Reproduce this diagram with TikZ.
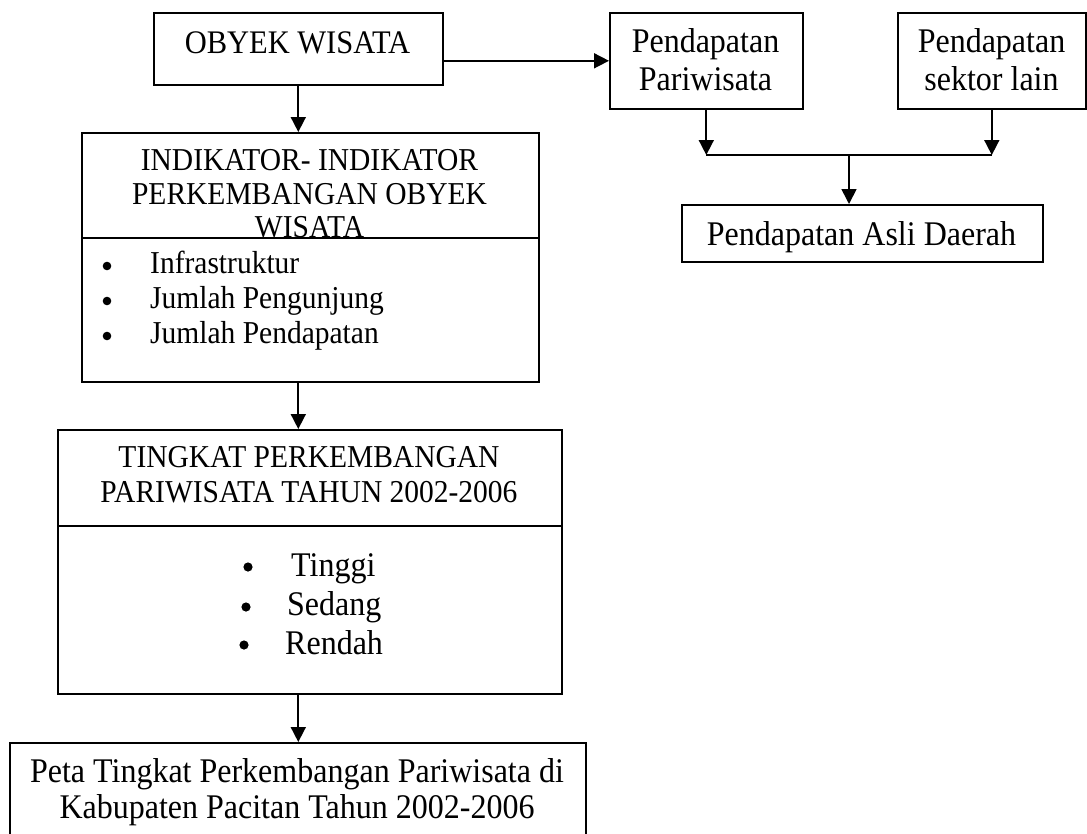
\documentclass[tikz,border=0pt]{standalone}
\usepackage{fontspec}
\setmainfont{Liberation Serif}
\usetikzlibrary{arrows.meta,calc}
\newcommand{\fsz}[1]{\fontsize{#1}{#1}\selectfont}
\newcommand{\tall}[1]{\scalebox{1}[1.08]{#1}}
\begin{document}
\begin{tikzpicture}[x=1pt,y=-1pt,
  box/.style={draw,line width=1.6pt,inner sep=0pt,anchor=north west},
  txt/.style={inner sep=0pt,anchor=base},
  txtl/.style={inner sep=0pt,anchor=base west},
  ln/.style={line width=1.7pt},
  arr/.style={line width=1.7pt,-{Triangle[length=15pt,width=15pt]}}]
\clip (0,0) rectangle (1087,833);
\fill[white] (0,0) rectangle (1087,833);
% boxes
\node[box,minimum width=289pt,minimum height=72pt] (obyek) at (153,12) {};
\node[box,minimum width=457pt,minimum height=249pt] (ind) at (81,132) {};
\node[box,minimum width=504pt,minimum height=264pt] (tkt) at (57,429) {};
\node[box,minimum width=576pt,minimum height=110pt] (peta) at (9,742) {};
\node[box,minimum width=193pt,minimum height=96pt] (pp) at (609,12) {};
\node[box,minimum width=188pt,minimum height=96pt] (sl) at (897,12) {};
\node[box,minimum width=361pt,minimum height=57pt] (pad) at (681,204) {};
% dividers
\coordinate (d1) at (0,238);
\coordinate (d2) at (0,526);
\draw[ln] (ind.west |- d1) -- (ind.east |- d1);
\draw[ln] (tkt.west |- d2) -- (tkt.east |- d2);
% texts
\node[txt,font=\fsz{30.5}] (tobyek) at (297.5,53) {\tall{OBYEK WISATA}};
\node[txt,font=\fsz{29.5}] (ti1) at (309.5,170) {\tall{INDIKATOR- INDIKATOR}};
\node[txt,font=\fsz{29.5}] (ti2) at (309.5,204) {\tall{PERKEMBANGAN OBYEK}};
\node[txt,font=\fsz{29.5}] (ti3) at (309.5,237) {\tall{WISATA}};
\node[txtl,font=\fsz{29.5}] (li1) at (150,273) {\tall{Infrastruktur}};
\node[txtl,font=\fsz{29.5}] (li2) at (150,308) {\tall{Jumlah Pengunjung}};
\node[txtl,font=\fsz{29.5}] (li3) at (150,343) {\tall{Jumlah Pendapatan}};
\fill (107,266) circle (4.3pt);
\fill (107,301) circle (4.3pt);
\fill (107,336) circle (4.3pt);
\node[txt,font=\fsz{29.5}] (tt1) at (309,467) {\tall{TINGKAT PERKEMBANGAN}};
\node[txt,font=\fsz{29.5}] (tt2) at (309,502) {\tall{PARIWISATA TAHUN 2002-2006}};
\node[txtl,font=\fsz{32}] (lt1) at (291,576) {\tall{Tinggi}};
\node[txtl,font=\fsz{32}] (lt2) at (287,615) {\tall{Sedang}};
\node[txtl,font=\fsz{32}] (lt3) at (285,654) {\tall{Rendah}};
\fill (248,567) circle (4.6pt);
\fill (246,607) circle (4.6pt);
\fill (244,645) circle (4.6pt);
\node[txt,font=\fsz{32}] (tp1) at (297,782) {\tall{Peta Tingkat Perkembangan Pariwisata di}};
\node[txt,font=\fsz{32}] (tp2) at (297,818) {\tall{Kabupaten Pacitan Tahun 2002-2006}};
\node[txt,font=\fsz{32}] (tpp1) at (705.5,52) {\tall{Pendapatan}};
\node[txt,font=\fsz{32}] (tpp2) at (705.5,90) {\tall{Pariwisata}};
\node[txt,font=\fsz{32}] (tsl1) at (991.5,52) {\tall{Pendapatan}};
\node[txt,font=\fsz{32}] (tsl2) at (991.5,90) {\tall{sektor lain}};
\node[txt,font=\fsz{32}] (tpad) at (861.5,245) {\tall{Pendapatan Asli Daerah}};
% connectors
\draw[arr] (obyek.south) -- (obyek.south |- ind.north);
\draw[arr] (ind.south -| obyek.south) -- (tkt.north -| obyek.south);
\draw[arr] (tkt.south -| obyek.south) -- (peta.north -| obyek.south);
\draw[arr] (obyek.east |- pp.west) -- (pp.west);
\coordinate (j) at (849,155);
\draw[arr] (pp.south) -- (pp.south |- j);
\draw[arr] (sl.south) -- (sl.south |- j);
\draw[ln] (pp.south |- j) -- (sl.south |- j);
\draw[arr] (j) -- (j |- pad.north);
\end{tikzpicture}
\end{document}
